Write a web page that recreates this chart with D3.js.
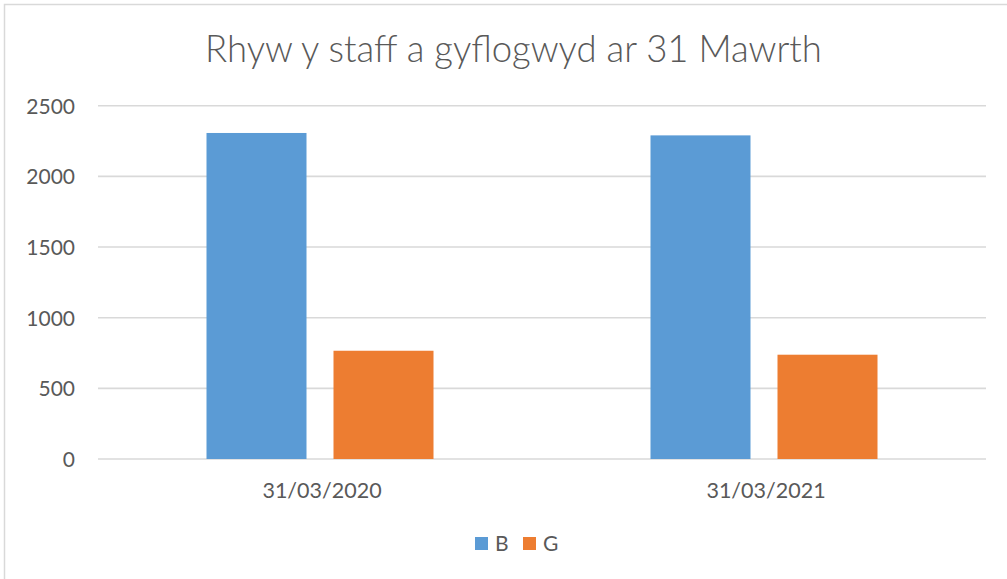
<!DOCTYPE html>
<html><head><meta charset="utf-8">
<script src="https://cdn.jsdelivr.net/npm/d3@7"></script>
<style>body{margin:0;background:#fff}svg{display:block}text{font-family:Lato,"Open Sans",sans-serif;fill:#595959}</style>
</head><body>
<script>
const title = "Rhyw y staff a gyflogwyd ar 31 Mawrth";
const categories = ["31/03/2020", "31/03/2021"];
const seriesNames = ["B", "G"];
const seriesB = [2307, 2290];
const seriesG = [766, 738];
const yTicks = [0, 500, 1000, 1500, 2000, 2500];
const colors = ["#5b9bd5", "#ed7d31"];

(function(){
const W = 1007, H = 579;
const svg = d3.select("body").append("svg").attr("width", W).attr("height", H);
svg.append("rect").attr("x", 4.5).attr("y", 4.5).attr("width", W + 10).attr("height", H + 10)
  .attr("fill", "#fff").attr("stroke", "#d9d9d9").attr("stroke-width", 1.5);

const mLeft = 98, mRight = 986, mTop = 105.7, mBottom = 459;
const y = d3.scaleLinear().domain([0, 2500]).range([mBottom, mTop]);
const x0 = d3.scaleBand().domain(categories).range([mLeft, mRight]).padding(0);
const p = 27 / 127;
const groupW = 227;
const x1 = d3.scaleBand().domain(seriesNames).range([0, groupW]).paddingInner(p).paddingOuter(0);

svg.append("text").attr("x", 513.5).attr("y", 62).attr("text-anchor", "middle")
  .style("font-size", "36.5px").style("font-weight", 300).text(title);

const gy = svg.append("g").attr("transform", `translate(${mLeft},0)`);
gy.selectAll("line.grid").data(yTicks).join("line").attr("class", "grid")
  .attr("x1", 0).attr("x2", mRight - mLeft).attr("y1", d => y(d)).attr("y2", d => y(d))
  .attr("stroke", "#d9d9d9").attr("stroke-width", 1.6);
const yAxis = d3.axisLeft(y).tickValues(yTicks).tickSize(0).tickPadding(0).tickFormat(d3.format("d"));
const ya = svg.append("g").attr("transform", `translate(75,0)`).call(yAxis);
ya.select(".domain").remove();
ya.selectAll("text").style("font-size", "21px").attr("fill", "#595959").attr("dy", "0.35em");

const data = categories.map((c, i) => ({cat: c, vals: [seriesB[i], seriesG[i]]}));
const groups = svg.append("g").selectAll("g").data(data).join("g")
  .attr("transform", d => `translate(${x0(d.cat) + (x0.bandwidth() - groupW) / 2},0)`);
groups.selectAll("rect").data(d => d.vals.map((v, j) => ({s: seriesNames[j], v, j}))).join("rect")
  .attr("x", d => x1(d.s)).attr("width", x1.bandwidth())
  .attr("y", d => y(d.v)).attr("height", d => y(0) - y(d.v))
  .attr("fill", d => colors[d.j]);

const xAxis = d3.axisBottom(x0).tickSize(0).tickPadding(0);
const xa = svg.append("g").attr("transform", `translate(2,498)`).call(xAxis);
xa.select(".domain").remove();
xa.selectAll("text").style("font-size", "21.5px").attr("fill", "#595959").attr("dy", "0");

const legend = svg.append("g");
const lx = [475, 523];
seriesNames.forEach((s, i) => {
  legend.append("rect").attr("x", lx[i]).attr("y", 537).attr("width", 13).attr("height", 13).attr("fill", colors[i]);
  legend.append("text").attr("x", lx[i] + 20).attr("y", 551).style("font-size", "21px").text(s);
});
})();
</script>
</body></html>
